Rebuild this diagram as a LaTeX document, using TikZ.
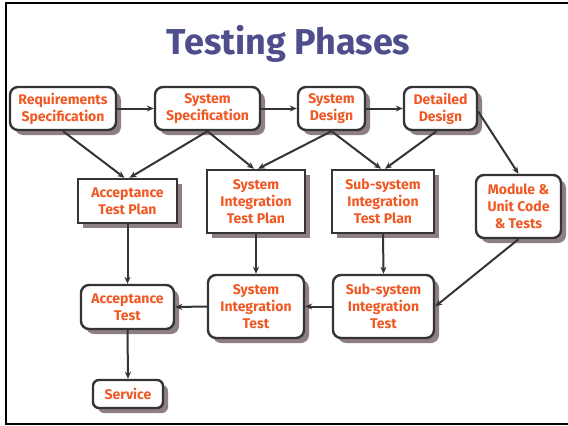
\documentclass[tikz,border=0pt]{standalone}
\usepackage{fontspec}
\setmainfont{Fira Sans}
\usetikzlibrary{arrows.meta,shadows}
\definecolor{txtor}{RGB}{240,88,36}
\definecolor{ttlblue}{RGB}{78,78,140}
\definecolor{lnc}{RGB}{51,51,56}
\definecolor{shd}{RGB}{142,128,128}
\tikzset{
  box/.style={draw=lnc,line width=2.4pt,fill=white,text=txtor,align=center,
    font=\fontsize{14}{17}\selectfont\bfseries,inner sep=0pt,
    drop shadow={shadow xshift=5pt,shadow yshift=-5pt,fill=shd,opacity=1}},
  rbox/.style={box,rounded corners=8pt},
  sbox/.style={box,rounded corners=0pt},
  conn/.style={draw=lnc,line width=2pt,-{Stealth[length=7pt,width=6pt]}},
}
\begin{document}
\begin{tikzpicture}[x=1pt,y=-1pt]
\useasboundingbox (0,0) rectangle (568,426);
% frame
\draw[line width=2pt,black] (568,3) -- (6,3) -- (6,424) -- (568,424);
% title
\node[text=ttlblue,font=\fontsize{36}{40}\selectfont\bfseries] (title) at (288.5,44) {Testing Phases};
% row 1
\node[rbox,minimum width=106pt,minimum height=43pt] (req) at (63,108.5) {Requirements\\Specification};
\node[rbox,minimum width=105pt,minimum height=43pt] (sysspec) at (207.5,108.5) {System\\Specification};
\node[rbox,minimum width=67pt,minimum height=43pt] (sysdes) at (331.5,108.5) {System\\Design};
\node[rbox,minimum width=73pt,minimum height=43pt] (detdes) at (440.5,108.5) {Detailed\\Design};
% row 2
\node[sbox,minimum width=99pt,minimum height=44pt] (atp) at (127.5,201) {Acceptance\\Test Plan};
\node[sbox,minimum width=98pt,minimum height=63pt] (sitp) at (256,201.5) {System\\Integration\\Test Plan};
\node[sbox,minimum width=102pt,minimum height=63pt] (subitp) at (383,201.5) {Sub-system\\Integration\\Test Plan};
\node[rbox,minimum width=85pt,minimum height=63pt] (module) at (518.5,206.5) {Module \&\\Unit Code\\\& Tests};
% row 3
\node[rbox,minimum width=93pt,minimum height=44pt] (at) at (127.5,307) {Acceptance\\Test};
\node[rbox,minimum width=96pt,minimum height=63pt] (sit) at (256,306.5) {System\\Integration\\Test};
\node[rbox,minimum width=101pt,minimum height=63pt] (subsit) at (383.5,306.5) {Sub-system\\Integration\\Test};
\node[rbox,rounded corners=6pt,minimum width=70pt,minimum height=28pt] (service) at (128,394) {Service};
% connectors row 1
\draw[conn] (req.east) -- (sysspec.west);
\draw[conn] (sysspec.east) -- (sysdes.west);
\draw[conn] (sysdes.east) -- (detdes.west);
% to row 2
\draw[conn] (req.south) -- ([xshift=-3pt]atp.north);
\draw[conn] (sysspec.south) -- ([xshift=2pt]atp.north);
\draw[conn] (sysspec.south) -- ([xshift=-2pt]sitp.north);
\draw[conn] (sysdes.south) -- ([xshift=2pt]sitp.north);
\draw[conn] (sysdes.south) -- ([xshift=-2pt]subitp.north);
\draw[conn] ([xshift=-4pt]detdes.south) -- ([xshift=2pt]subitp.north);
\draw[conn] ([yshift=-3pt]detdes.east) -- (module.north);
% verticals
\draw[conn] (atp.south) -- (at.north);
\draw[conn] (sitp.south) -- (sit.north);
\draw[conn] (subitp.south) -- (subsit.north);
\draw[conn] (at.south) -- (service.north);
% row 3
\draw[conn] (subsit.west) -- (sit.east);
\draw[conn] (sit.west) -- (at.east);
\draw[conn] (module.south) -- (subsit.east);
\end{tikzpicture}
\end{document}
